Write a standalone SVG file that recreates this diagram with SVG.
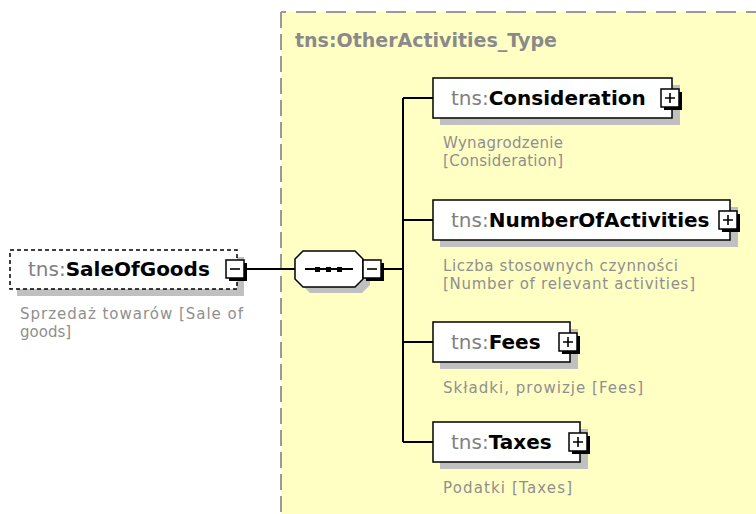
<svg xmlns="http://www.w3.org/2000/svg" width="756" height="514" viewBox="0 0 756 514">
<style>
text{font-family:"DejaVu Sans","Liberation Sans",sans-serif}
.name{font-size:20px}
.ns{fill:#808080;font-weight:normal}
.nm{fill:#000;font-weight:bold}
.desc{font-size:15px;fill:#8f8f8f}
.title{font-size:19px;font-weight:bold;fill:#8a8a8a}
.box{fill:#fff;stroke:#000;stroke-width:1.5}
.shadow{fill:#c0c0c0}
.btn{fill:#fff;stroke:#000;stroke-width:1.5}
.btns{fill:#000}
.sign{stroke:#000;stroke-width:1.6;fill:none}
.conn{stroke:#000;stroke-width:2;fill:none}
</style>
<defs>
<g id="plus">
<rect class="btns" x="3" y="3" width="18" height="18"/>
<rect class="btn" x="0" y="0" width="18" height="18"/>
<path class="sign" d="M4 9H14M9 4V14"/>
</g>
<g id="minus">
<rect class="btns" x="3" y="3" width="18" height="18"/>
<rect class="btn" x="0" y="0" width="18" height="18"/>
<path class="sign" d="M4 9H14"/>
</g>
</defs>
<rect width="756" height="514" fill="#fff"/>
<g id="type-box">
<rect x="281" y="12" width="500" height="520" fill="#ffffc4"/>
<line x1="281" y1="12" x2="760" y2="12" stroke="#999" stroke-width="2" stroke-dasharray="20 10" stroke-dashoffset="15"/>
<line x1="281" y1="12" x2="281" y2="520" stroke="#999" stroke-width="2" stroke-dasharray="16 6"/>
<text class="title" x="295" y="47">tns:OtherActivities_Type</text>
</g>
<g id="connectors">
<path class="conn" d="M247 269H295"/>
<path class="conn" d="M384 269H403"/>
<path class="conn" d="M403 98V442"/>
<path class="conn" d="M403 98H433M403 220H433M403 342H433M403 442H433"/>
</g>
<g id="SaleOfGoods">
<rect class="shadow" x="17" y="257" width="227" height="39"/>
<rect x="10" y="250" width="227" height="39" fill="#fff" stroke="#000" stroke-width="1.5" stroke-dasharray="4 3"/>
<text class="name" x="28" y="276"><tspan class="ns">tns:</tspan><tspan class="nm">SaleOfGoods</tspan></text>
<use href="#minus" x="226" y="260"/>
<text class="desc" x="20" y="319" textLength="223" lengthAdjust="spacing">Sprzedaż towarów [Sale of</text>
<text class="desc" x="20" y="337">goods]</text>
</g>
<g id="sequence">
<polygon class="shadow" points="310,259 362,259 370,267 370,285 362,293 310,293 302,285 302,267"/>
<polygon class="box" points="303,251 355,251 363,259 363,279 355,287 303,287 295,279 295,259"/>
<path class="conn" d="M305 269H353" stroke-width="1.5"/>
<rect x="315" y="267" width="5" height="5" fill="#000"/>
<rect x="326" y="267" width="5" height="5" fill="#000"/>
<rect x="337" y="267" width="5" height="5" fill="#000"/>
<use href="#minus" x="363" y="260"/>
</g>
<g id="Consideration">
<rect class="shadow" x="440" y="85" width="240" height="40"/>
<rect class="box" x="433" y="78" width="239" height="40"/>
<text class="name" x="451" y="105"><tspan class="ns">tns:</tspan><tspan class="nm">Consideration</tspan></text>
<use href="#plus" x="661" y="89"/>
<text class="desc" x="443" y="148" textLength="120" lengthAdjust="spacing">Wynagrodzenie</text>
<text class="desc" x="443" y="166" textLength="120" lengthAdjust="spacing">[Consideration]</text>
</g>
<g id="NumberOfActivities">
<rect class="shadow" x="440" y="207" width="298" height="40"/>
<rect class="box" x="433" y="200" width="297" height="40"/>
<text class="name" x="451" y="227"><tspan class="ns">tns:</tspan><tspan class="nm">NumberOfActivities</tspan></text>
<use href="#plus" x="719" y="211"/>
<text class="desc" x="443" y="271" textLength="235" lengthAdjust="spacing">Liczba stosownych czynności</text>
<text class="desc" x="443" y="289" textLength="252" lengthAdjust="spacing">[Number of relevant activities]</text>
</g>
<g id="Fees">
<rect class="shadow" x="440" y="329" width="138" height="40"/>
<rect class="box" x="433" y="322" width="137" height="40"/>
<text class="name" x="451" y="349"><tspan class="ns">tns:</tspan><tspan class="nm">Fees</tspan></text>
<use href="#plus" x="559" y="333"/>
<text class="desc" x="443" y="393" textLength="200" lengthAdjust="spacing">Składki, prowizje [Fees]</text>
</g>
<g id="Taxes">
<rect class="shadow" x="440" y="429" width="148" height="40"/>
<rect class="box" x="433" y="422" width="147" height="40"/>
<text class="name" x="451" y="449"><tspan class="ns">tns:</tspan><tspan class="nm">Taxes</tspan></text>
<use href="#plus" x="569" y="433"/>
<text class="desc" x="443" y="493" textLength="129" lengthAdjust="spacing">Podatki [Taxes]</text>
</g>
</svg>
